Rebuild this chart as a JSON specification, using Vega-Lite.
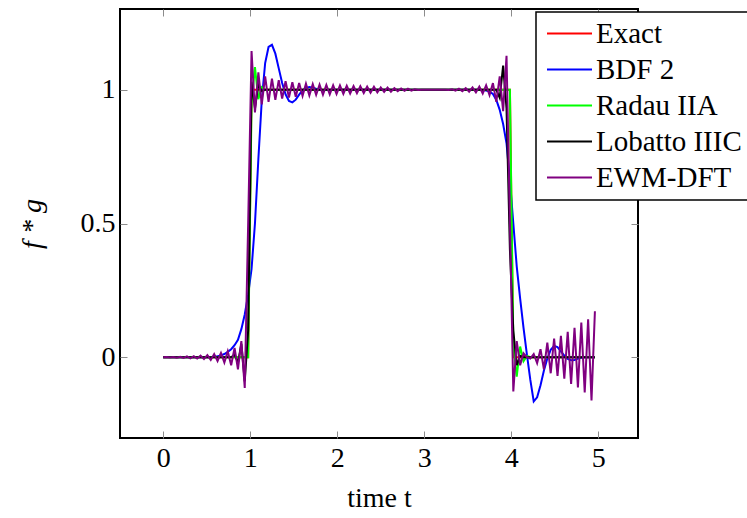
{
"$schema": "https://vega.github.io/schema/vega-lite/v6.json",
"width": 518, "height": 429,
"autosize": "none",
"padding": {"left": 120, "top": 9, "right": 109, "bottom": 80},
"config": {"view": {"stroke": "black", "strokeWidth": 2}, "font": "Liberation Serif"},
"data": {"values": [
{"t":0,"y":0,"s":"Exact"},{"t":0.9766,"y":0,"s":"Exact"},{"t":1.0156,"y":1,"s":"Exact"},{"t":3.9844,"y":1,"s":"Exact"},{"t":4.0234,"y":0,"s":"Exact"},{"t":4.9609,"y":0,"s":"Exact"},
{"t":0,"y":0,"s":"BDF 2"},{"t":0.5078,"y":0,"s":"BDF 2"},{"t":0.5469,"y":0.001,"s":"BDF 2"},{"t":0.5859,"y":0.002,"s":"BDF 2"},{"t":0.625,"y":0.004,"s":"BDF 2"},{"t":0.6641,"y":0.007,"s":"BDF 2"},{"t":0.7031,"y":0.012,"s":"BDF 2"},{"t":0.7422,"y":0.02,"s":"BDF 2"},{"t":0.7813,"y":0.03,"s":"BDF 2"},{"t":0.8203,"y":0.045,"s":"BDF 2"},{"t":0.8594,"y":0.065,"s":"BDF 2"},{"t":0.8984,"y":0.105,"s":"BDF 2"},{"t":0.9375,"y":0.16,"s":"BDF 2"},{"t":0.9766,"y":0.235,"s":"BDF 2"},{"t":1.0156,"y":0.33,"s":"BDF 2"},{"t":1.0547,"y":0.5,"s":"BDF 2"},{"t":1.0938,"y":0.74,"s":"BDF 2"},{"t":1.1328,"y":0.96,"s":"BDF 2"},{"t":1.1719,"y":1.1,"s":"BDF 2"},{"t":1.2109,"y":1.16,"s":"BDF 2"},{"t":1.25,"y":1.168,"s":"BDF 2"},{"t":1.2891,"y":1.135,"s":"BDF 2"},{"t":1.3281,"y":1.08,"s":"BDF 2"},{"t":1.3672,"y":1.025,"s":"BDF 2"},{"t":1.4063,"y":0.983,"s":"BDF 2"},{"t":1.4453,"y":0.958,"s":"BDF 2"},{"t":1.4844,"y":0.953,"s":"BDF 2"},{"t":1.5234,"y":0.963,"s":"BDF 2"},{"t":1.5625,"y":0.982,"s":"BDF 2"},{"t":1.6016,"y":0.998,"s":"BDF 2"},{"t":1.6406,"y":1.007,"s":"BDF 2"},{"t":1.6797,"y":1.01,"s":"BDF 2"},{"t":1.7188,"y":1.008,"s":"BDF 2"},{"t":1.7578,"y":1.004,"s":"BDF 2"},{"t":1.7969,"y":1.001,"s":"BDF 2"},{"t":1.8359,"y":0.999,"s":"BDF 2"},{"t":1.875,"y":0.999,"s":"BDF 2"},{"t":1.9141,"y":1,"s":"BDF 2"},{"t":3.6328,"y":1,"s":"BDF 2"},{"t":3.6719,"y":0.999,"s":"BDF 2"},{"t":3.7109,"y":0.997,"s":"BDF 2"},{"t":3.75,"y":0.993,"s":"BDF 2"},{"t":3.7891,"y":0.984,"s":"BDF 2"},{"t":3.8281,"y":0.962,"s":"BDF 2"},{"t":3.8672,"y":0.925,"s":"BDF 2"},{"t":3.9063,"y":0.872,"s":"BDF 2"},{"t":3.9453,"y":0.8,"s":"BDF 2"},{"t":3.9844,"y":0.66,"s":"BDF 2"},{"t":4.0234,"y":0.5,"s":"BDF 2"},{"t":4.0625,"y":0.34,"s":"BDF 2"},{"t":4.1016,"y":0.22,"s":"BDF 2"},{"t":4.1406,"y":0.11,"s":"BDF 2"},{"t":4.1797,"y":0.01,"s":"BDF 2"},{"t":4.2188,"y":-0.085,"s":"BDF 2"},{"t":4.2578,"y":-0.165,"s":"BDF 2"},{"t":4.2969,"y":-0.15,"s":"BDF 2"},{"t":4.3359,"y":-0.105,"s":"BDF 2"},{"t":4.375,"y":-0.05,"s":"BDF 2"},{"t":4.4141,"y":-0.005,"s":"BDF 2"},{"t":4.4531,"y":0.028,"s":"BDF 2"},{"t":4.4922,"y":0.042,"s":"BDF 2"},{"t":4.5313,"y":0.038,"s":"BDF 2"},{"t":4.5703,"y":0.022,"s":"BDF 2"},{"t":4.6094,"y":0.006,"s":"BDF 2"},{"t":4.6484,"y":-0.006,"s":"BDF 2"},{"t":4.6875,"y":-0.011,"s":"BDF 2"},{"t":4.7266,"y":-0.01,"s":"BDF 2"},{"t":4.7656,"y":-0.005,"s":"BDF 2"},{"t":4.8047,"y":-0.002,"s":"BDF 2"},{"t":4.8438,"y":0,"s":"BDF 2"},{"t":4.9609,"y":0,"s":"BDF 2"},
{"t":0,"y":0,"s":"Radau IIA"},{"t":0.9766,"y":0,"s":"Radau IIA"},{"t":1.0156,"y":0.95,"s":"Radau IIA"},{"t":1.0547,"y":1.085,"s":"Radau IIA"},{"t":1.0938,"y":0.965,"s":"Radau IIA"},{"t":1.1328,"y":1.01,"s":"Radau IIA"},{"t":1.1719,"y":1,"s":"Radau IIA"},{"t":3.9844,"y":1,"s":"Radau IIA"},{"t":4.0234,"y":0.05,"s":"Radau IIA"},{"t":4.0625,"y":-0.073,"s":"Radau IIA"},{"t":4.1016,"y":0.04,"s":"Radau IIA"},{"t":4.1406,"y":-0.015,"s":"Radau IIA"},{"t":4.1797,"y":0.005,"s":"Radau IIA"},{"t":4.2188,"y":0,"s":"Radau IIA"},{"t":4.9609,"y":0,"s":"Radau IIA"},
{"t":0,"y":0,"s":"Lobatto IIIC"},{"t":0.7813,"y":0,"s":"Lobatto IIIC"},{"t":0.8203,"y":0.01,"s":"Lobatto IIIC"},{"t":0.8594,"y":-0.02,"s":"Lobatto IIIC"},{"t":0.8984,"y":0.05,"s":"Lobatto IIIC"},{"t":0.9375,"y":-0.09,"s":"Lobatto IIIC"},{"t":0.9766,"y":0.1,"s":"Lobatto IIIC"},{"t":1.0156,"y":1.03,"s":"Lobatto IIIC"},{"t":1.0547,"y":0.93,"s":"Lobatto IIIC"},{"t":1.0938,"y":1.02,"s":"Lobatto IIIC"},{"t":1.1328,"y":0.995,"s":"Lobatto IIIC"},{"t":1.1719,"y":1,"s":"Lobatto IIIC"},{"t":3.8281,"y":1,"s":"Lobatto IIIC"},{"t":3.8672,"y":0.97,"s":"Lobatto IIIC"},{"t":3.9063,"y":1.09,"s":"Lobatto IIIC"},{"t":3.9453,"y":0.93,"s":"Lobatto IIIC"},{"t":3.9844,"y":0.4,"s":"Lobatto IIIC"},{"t":4.0234,"y":0.1,"s":"Lobatto IIIC"},{"t":4.0625,"y":-0.03,"s":"Lobatto IIIC"},{"t":4.1016,"y":0.005,"s":"Lobatto IIIC"},{"t":4.1406,"y":0,"s":"Lobatto IIIC"},{"t":4.9609,"y":0,"s":"Lobatto IIIC"},
{"t":0,"y":0,"s":"EWM-DFT"},{"t":0.0391,"y":0.0005,"s":"EWM-DFT"},{"t":0.0781,"y":-0.001,"s":"EWM-DFT"},{"t":0.1172,"y":0.001,"s":"EWM-DFT"},{"t":0.1563,"y":-0.0015,"s":"EWM-DFT"},{"t":0.1953,"y":0.002,"s":"EWM-DFT"},{"t":0.2344,"y":-0.0025,"s":"EWM-DFT"},{"t":0.2734,"y":0.003,"s":"EWM-DFT"},{"t":0.3125,"y":-0.004,"s":"EWM-DFT"},{"t":0.3516,"y":0.004,"s":"EWM-DFT"},{"t":0.3906,"y":-0.005,"s":"EWM-DFT"},{"t":0.4297,"y":0.006,"s":"EWM-DFT"},{"t":0.4688,"y":-0.007,"s":"EWM-DFT"},{"t":0.5078,"y":0.008,"s":"EWM-DFT"},{"t":0.5469,"y":-0.01,"s":"EWM-DFT"},{"t":0.5859,"y":0.012,"s":"EWM-DFT"},{"t":0.625,"y":-0.014,"s":"EWM-DFT"},{"t":0.6641,"y":0.016,"s":"EWM-DFT"},{"t":0.7031,"y":-0.02,"s":"EWM-DFT"},{"t":0.7422,"y":0.022,"s":"EWM-DFT"},{"t":0.7813,"y":-0.03,"s":"EWM-DFT"},{"t":0.8203,"y":0.035,"s":"EWM-DFT"},{"t":0.8594,"y":-0.045,"s":"EWM-DFT"},{"t":0.8984,"y":0.06,"s":"EWM-DFT"},{"t":0.9375,"y":-0.115,"s":"EWM-DFT"},{"t":0.9766,"y":0.5,"s":"EWM-DFT"},{"t":1.0156,"y":1.145,"s":"EWM-DFT"},{"t":1.0547,"y":0.915,"s":"EWM-DFT"},{"t":1.0938,"y":1.065,"s":"EWM-DFT"},{"t":1.1328,"y":0.945,"s":"EWM-DFT"},{"t":1.1719,"y":1.05,"s":"EWM-DFT"},{"t":1.2109,"y":0.955,"s":"EWM-DFT"},{"t":1.25,"y":1.042,"s":"EWM-DFT"},{"t":1.2891,"y":0.962,"s":"EWM-DFT"},{"t":1.3281,"y":1.036,"s":"EWM-DFT"},{"t":1.3672,"y":0.967,"s":"EWM-DFT"},{"t":1.4063,"y":1.032,"s":"EWM-DFT"},{"t":1.4453,"y":0.971,"s":"EWM-DFT"},{"t":1.4844,"y":1.028,"s":"EWM-DFT"},{"t":1.5234,"y":0.974,"s":"EWM-DFT"},{"t":1.5625,"y":1.025,"s":"EWM-DFT"},{"t":1.6016,"y":0.977,"s":"EWM-DFT"},{"t":1.6406,"y":1.023,"s":"EWM-DFT"},{"t":1.6797,"y":0.979,"s":"EWM-DFT"},{"t":1.7188,"y":1.021,"s":"EWM-DFT"},{"t":1.7578,"y":0.981,"s":"EWM-DFT"},{"t":1.7969,"y":1.019,"s":"EWM-DFT"},{"t":1.8359,"y":0.982,"s":"EWM-DFT"},{"t":1.875,"y":1.018,"s":"EWM-DFT"},{"t":1.9141,"y":0.983,"s":"EWM-DFT"},{"t":1.9531,"y":1.017,"s":"EWM-DFT"},{"t":1.9922,"y":0.984,"s":"EWM-DFT"},{"t":2.0313,"y":1.016,"s":"EWM-DFT"},{"t":2.0703,"y":0.985,"s":"EWM-DFT"},{"t":2.1094,"y":1.015,"s":"EWM-DFT"},{"t":2.1484,"y":0.986,"s":"EWM-DFT"},{"t":2.1875,"y":1.014,"s":"EWM-DFT"},{"t":2.2266,"y":0.987,"s":"EWM-DFT"},{"t":2.2656,"y":1.013,"s":"EWM-DFT"},{"t":2.3047,"y":0.988,"s":"EWM-DFT"},{"t":2.3438,"y":1.012,"s":"EWM-DFT"},{"t":2.3828,"y":0.989,"s":"EWM-DFT"},{"t":2.4219,"y":1.011,"s":"EWM-DFT"},{"t":2.4609,"y":0.99,"s":"EWM-DFT"},{"t":2.5,"y":1.009,"s":"EWM-DFT"},{"t":2.5391,"y":0.992,"s":"EWM-DFT"},{"t":2.5781,"y":1.008,"s":"EWM-DFT"},{"t":2.6172,"y":0.993,"s":"EWM-DFT"},{"t":2.6563,"y":1.006,"s":"EWM-DFT"},{"t":2.6953,"y":0.995,"s":"EWM-DFT"},{"t":2.7344,"y":1.005,"s":"EWM-DFT"},{"t":2.7734,"y":0.996,"s":"EWM-DFT"},{"t":2.8125,"y":1.004,"s":"EWM-DFT"},{"t":2.8516,"y":0.997,"s":"EWM-DFT"},{"t":2.8906,"y":1.002,"s":"EWM-DFT"},{"t":2.9297,"y":0.999,"s":"EWM-DFT"},{"t":2.9688,"y":1,"s":"EWM-DFT"},{"t":3.0078,"y":1,"s":"EWM-DFT"},{"t":3.0469,"y":1,"s":"EWM-DFT"},{"t":3.0859,"y":1,"s":"EWM-DFT"},{"t":3.125,"y":1,"s":"EWM-DFT"},{"t":3.1641,"y":1,"s":"EWM-DFT"},{"t":3.2031,"y":1,"s":"EWM-DFT"},{"t":3.2422,"y":1,"s":"EWM-DFT"},{"t":3.2813,"y":0.999,"s":"EWM-DFT"},{"t":3.3203,"y":1.002,"s":"EWM-DFT"},{"t":3.3594,"y":0.997,"s":"EWM-DFT"},{"t":3.3984,"y":1.004,"s":"EWM-DFT"},{"t":3.4375,"y":0.995,"s":"EWM-DFT"},{"t":3.4766,"y":1.006,"s":"EWM-DFT"},{"t":3.5156,"y":0.993,"s":"EWM-DFT"},{"t":3.5547,"y":1.009,"s":"EWM-DFT"},{"t":3.5938,"y":0.99,"s":"EWM-DFT"},{"t":3.6328,"y":1.012,"s":"EWM-DFT"},{"t":3.6719,"y":0.986,"s":"EWM-DFT"},{"t":3.7109,"y":1.017,"s":"EWM-DFT"},{"t":3.75,"y":0.98,"s":"EWM-DFT"},{"t":3.7891,"y":1.025,"s":"EWM-DFT"},{"t":3.8281,"y":0.955,"s":"EWM-DFT"},{"t":3.8672,"y":1.05,"s":"EWM-DFT"},{"t":3.9063,"y":0.92,"s":"EWM-DFT"},{"t":3.9453,"y":1.127,"s":"EWM-DFT"},{"t":3.9844,"y":0.5,"s":"EWM-DFT"},{"t":4.0234,"y":-0.128,"s":"EWM-DFT"},{"t":4.0625,"y":0.06,"s":"EWM-DFT"},{"t":4.1016,"y":-0.03,"s":"EWM-DFT"},{"t":4.1406,"y":0.015,"s":"EWM-DFT"},{"t":4.1797,"y":0,"s":"EWM-DFT"},{"t":4.2188,"y":-0.005,"s":"EWM-DFT"},{"t":4.2578,"y":0.012,"s":"EWM-DFT"},{"t":4.2969,"y":-0.022,"s":"EWM-DFT"},{"t":4.3359,"y":0.03,"s":"EWM-DFT"},{"t":4.375,"y":-0.045,"s":"EWM-DFT"},{"t":4.4141,"y":0.055,"s":"EWM-DFT"},{"t":4.4531,"y":-0.06,"s":"EWM-DFT"},{"t":4.4922,"y":0.07,"s":"EWM-DFT"},{"t":4.5313,"y":-0.07,"s":"EWM-DFT"},{"t":4.5703,"y":0.08,"s":"EWM-DFT"},{"t":4.6094,"y":-0.08,"s":"EWM-DFT"},{"t":4.6484,"y":0.095,"s":"EWM-DFT"},{"t":4.6875,"y":-0.1,"s":"EWM-DFT"},{"t":4.7266,"y":0.11,"s":"EWM-DFT"},{"t":4.7656,"y":-0.113,"s":"EWM-DFT"},{"t":4.8047,"y":0.13,"s":"EWM-DFT"},{"t":4.8438,"y":-0.132,"s":"EWM-DFT"},{"t":4.8828,"y":0.142,"s":"EWM-DFT"},{"t":4.9219,"y":-0.162,"s":"EWM-DFT"},{"t":4.9609,"y":0.172,"s":"EWM-DFT"}
]},
"layer": [
 {
  "mark": {"type": "line", "opacity": 0},
  "encoding": {
   "x": {"field": "t", "type": "quantitative", "scale": {"domain": [-0.496, 5.456], "nice": false, "zero": false},
         "axis": {"orient": "top", "values": [0,1,2,3,4,5], "labels": false, "domain": false, "grid": false, "tickSize": -7, "tickColor": "#8c8c8c", "tickWidth": 1, "title": null}},
   "y": {"field": "y", "type": "quantitative", "scale": {"domain": [-0.302, 1.302], "nice": false, "zero": false},
         "axis": {"orient": "right", "values": [0,0.5,1], "labels": false, "domain": false, "grid": false, "tickSize": -7, "tickColor": "#8c8c8c", "tickWidth": 1, "title": null}}
  }
 },
 {
  "encoding": {
   "x": {"field": "t", "type": "quantitative",
         "axis": {"orient": "bottom", "values": [0,1,2,3,4,5], "domain": false, "grid": false, "tickSize": -7, "tickColor": "#8c8c8c", "tickWidth": 1,
                  "labelFont": "Liberation Serif", "labelFontSize": 28, "labelColor": "black", "labelPadding": 13, "labelFlush": false, "labelOverlap": false,
                  "title": "time t", "titleFont": "Liberation Serif", "titleFontSize": 28, "titleFontWeight": "normal", "titleColor": "black", "titlePadding": 12}},
   "y": {"field": "y", "type": "quantitative",
         "axis": {"orient": "left", "values": [0,0.5,1], "labelExpr": "'' + datum.value", "domain": false, "grid": false, "tickSize": -7, "tickColor": "#8c8c8c", "tickWidth": 1,
                  "labelFont": "Liberation Serif", "labelFontSize": 28, "labelColor": "black", "labelPadding": 12, "labelFlush": false, "labelOverlap": false,
                  "title": "f * g", "titleFont": "Liberation Serif", "titleFontStyle": "italic", "titleFontSize": 28, "titleFontWeight": "normal", "titleColor": "black", "titlePadding": 34}},
   "color": {"field": "s", "type": "nominal",
             "scale": {"domain": ["Exact","BDF 2","Radau IIA","Lobatto IIIC","EWM-DFT"], "range": ["#ff0000","#0000ff","#00ff00","#000000","#800080"]},
             "legend": {"orient": "none", "legendX": 416, "legendY": 3, "title": null, "fillColor": "white", "strokeColor": "black", "padding": 7, "cornerRadius": 0,
                        "symbolType": "M-3,0H3", "symbolSize": 225, "symbolOffset": 12, "symbolStrokeWidth": 2, "labelFont": "Liberation Serif", "labelFontSize": 29, "labelColor": "black", "labelOffset": 12, "rowPadding": 6,
                        "encode": {"legend": {"update": {"strokeWidth": {"value": 1.5}}}}}}
  },
  "layer": [
   {"transform": [{"filter": "datum.s == 'Exact'"}], "mark": {"type": "line", "strokeWidth": 2}},
   {"transform": [{"filter": "datum.s == 'BDF 2'"}], "mark": {"type": "line", "strokeWidth": 2}},
   {"transform": [{"filter": "datum.s == 'Radau IIA'"}], "mark": {"type": "line", "strokeWidth": 2}},
   {"transform": [{"filter": "datum.s == 'Lobatto IIIC'"}], "mark": {"type": "line", "strokeWidth": 2}},
   {"transform": [{"filter": "datum.s == 'EWM-DFT'"}], "mark": {"type": "line", "strokeWidth": 2}}
  ]
 }
],
"resolve": {"axis": {"x": "independent", "y": "independent"}}
}
